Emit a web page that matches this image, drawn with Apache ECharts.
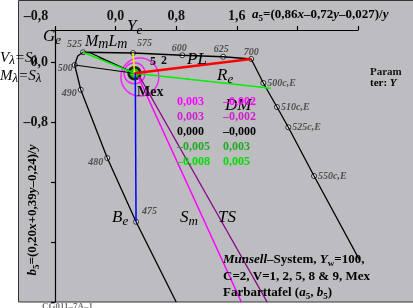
<!DOCTYPE html>
<html>
<head>
<meta charset="utf-8">
<script src="https://cdn.jsdelivr.net/npm/echarts@6/dist/echarts.min.js"></script>
<style>
  html, body { margin: 0; padding: 0; background: #fff; }
</style>
</head>
<body>
<div id="chart" style="width:413px;height:308px"></div>
<script>
// axis ticks
const xTicks = [-0.8, 0.0, 0.8, 1.6]
const xTickLabels = ['\u20130,8', '0,0', '0,8', '1,6']
const yTicks = [0.0, -0.8]
const yTickLabels = ['0,0', '\u20130,8']

// spectral locus (a5, b5), with the named points
const locusX = [0.80, 0.27, -0.11, -0.46, -0.54, -0.50, -0.43, 0.23, 0.88, 1.42, 1.79, 1.95, 2.13, 2.28, 2.62, 3.52]
const locusY = [-3.20, -2.13, -1.28, -0.37, -0.04, 0.08, 0.13, 0.12, 0.09, 0.07, 0.04, -0.28, -0.60, -0.87, -1.52, -3.20]
const locusNames = ['', '475', '480', '490', '500', '', '525', '575', '600', '625', '700', '500c,E', '510c,E', '525c,E', '550c,E', '']

// centre (Mex) and the hue lines
const centerPt = [0.25, -0.15]
const greenLine = [[-0.43, 0.13], [0.25, -0.15], [2.05, -0.35]]
const yellowLine = [[0.23, 0.12], [0.25, -0.15]]
const redLine = [[0.25, -0.15], [1.79, 0.04]]
const blueLine = [[0.26, -0.15], [0.27, -2.13]]
const magentaLine = [[0.30, -0.20], [1.66, -3.20]]
const purpleLine = [[0.32, -0.20], [2.00, -3.20]]
const blackSpokes = [
  [[-0.35, 0.13], [0.25, -0.15]],
  [[-0.22, 0.06], [0.25, -0.15]],
  [[-0.54, -0.04], [0.25, -0.15]]
]

// table of small numbers
const tableLeft = ['0,003', '0,003', '0,000', '\u20130,005', '\u20130,008']
const tableRight = ['\u20130,002', '\u20130,002', '\u20130,000', '0,003', '0,005']

const SERIF = 'Liberation Serif'
const TXT = '#333'

// label placement for the locus points (style only)
const labelPlace = {
  '475': ['right', [0, -10]],
  '480': ['left', [2, 4]],
  '490': ['left', [2, 4]],
  '500': ['left', [4, 3]],
  '525': ['left', [5, -8]],
  '575': ['right', [-2, -10]],
  '600': ['top', [-3, 4]],
  '625': ['top', [-2, 4]],
  '700': ['top', [0, 4]],
  '500c,E': ['right', [-2, 0]],
  '510c,E': ['right', [-2, 0]],
  '525c,E': ['right', [-2, 0]],
  '550c,E': ['right', [-2, 0]]
}

const locusLine = locusX.map((x, i) => [x, locusY[i]])
const markers = []
locusX.forEach((x, i) => {
  if (!locusNames[i]) return
  const p = labelPlace[locusNames[i]]
  markers.push({
    name: locusNames[i],
    value: [x, locusY[i]],
    label: { position: p[0], offset: p[1] }
  })
})

function lineSeries (data, color, width) {
  return {
    type: 'line',
    data: data,
    clip: false,
    symbol: 'none',
    silent: true,
    animation: false,
    lineStyle: { color: color, width: width }
  }
}

const series = []
series.push(lineSeries(locusLine, '#000', 1.3))
blackSpokes.forEach(s => series.push(lineSeries(s, '#000', 1.2)))
series.push(lineSeries(greenLine, '#00ee00', 1.5))
series.push(lineSeries(yellowLine, '#ffee00', 1.5))
series.push(lineSeries(redLine, '#ff0000', 2.5))
series.push(lineSeries(blueLine, '#0000ff', 1.5))
series.push(lineSeries(magentaLine, '#ff00ff', 1.5))
series.push(lineSeries(purpleLine, '#880088', 1.3))
series.push({
  type: 'scatter',
  data: markers,
  clip: false,
  symbolSize: 5,
  animation: false,
  itemStyle: { color: '#fff', borderColor: '#000', borderWidth: 1 },
  label: {
    show: true,
    formatter: p => p.name,
    fontFamily: SERIF,
    fontStyle: 'italic',
    fontWeight: 'bold',
    fontSize: 10,
    color: TXT,
    distance: 3
  }
})
// rings round the centre
series.push({
  type: 'scatter',
  animation: false,
  data: [[0.32, -0.20]],
  symbolSize: 38,
  itemStyle: { color: 'rgba(0,0,0,0)', borderColor: '#ff00ff', borderWidth: 1.5 }
})
series.push({
  type: 'scatter',
  animation: false,
  data: [centerPt],
  symbolSize: 21,
  itemStyle: { color: 'rgba(0,0,0,0)', borderColor: '#ff00ff', borderWidth: 1.5 }
})
series.push({
  type: 'scatter',
  animation: false,
  data: [centerPt],
  symbolSize: 12,
  itemStyle: { color: '#00bb00', borderColor: '#000', borderWidth: 2.5 }
})
series.push({
  type: 'scatter',
  animation: false,
  data: [centerPt],
  symbolSize: 4,
  itemStyle: { color: '#3344ff', borderColor: '#ffee00', borderWidth: 1 }
})

// rich text styles
const base = { fontFamily: SERIF, fontWeight: 'bold', fontSize: 13, color: TXT, lineHeight: 16 }
const rich13 = {
  n: base,
  i: Object.assign({}, base, { fontStyle: 'italic' }),
  s: Object.assign({}, base, { fontSize: 9, lineHeight: 9, verticalAlign: 'bottom' })
}

function richText (x, y, text, rich) {
  return { type: 'text', x: x, y: y, z: 50, style: { text: text, rich: rich, fontFamily: SERIF } }
}

function hueLabel (x, y, big, small, color) {
  return {
    type: 'text', x: x, y: y, z: 50,
    style: {
      text: '{b|' + big + '}{s|' + small + '}',
      rich: {
        b: { fontFamily: SERIF, fontStyle: 'italic', fontSize: 17, color: color, lineHeight: 20 },
        s: { fontFamily: SERIF, fontStyle: 'italic', fontSize: 13, color: color, lineHeight: 13, verticalAlign: 'bottom' }
      }
    }
  }
}

function plain (x, y, text, size, color) {
  return {
    type: 'text', x: x, y: y, z: 50,
    style: {
      text: text, fontFamily: SERIF, fontWeight: 'bold', fontSize: size, fill: color,
      verticalAlign: 'middle'
    }
  }
}

const subRich = {
  b: { fontFamily: SERIF, fontStyle: 'italic', fontSize: 15, color: TXT, lineHeight: 17 },
  s: { fontFamily: SERIF, fontStyle: 'italic', fontSize: 13, color: TXT, lineHeight: 13, verticalAlign: 'bottom' }
}

const tableColors = ['#ff00ff', '#cc22cc', '#000', '#22aa22', '#00dd00']
const tableRows = [102, 117, 132, 147, 162]

const graphic = [
  { type: 'rect', z: -10, shape: { x: 18.5, y: 0.5, width: 400, height: 301.5 }, style: { fill: '#bdbdc1', stroke: '#333', lineWidth: 1 } },
  richText(252, 7, '{i|a}{s|5}{n|=(0,86}{i|x}{n|\u20130,72}{i|y}{n|\u20130,027)/}{i|y}', rich13),
  {
    type: 'text', x: 33, y: 210, z: 50, rotation: Math.PI / 2,
    style: {
      text: '{i|b}{s|5}{n|=(0,20}{i|x}{n|+0,39}{i|y}{n|\u20130,24)/}{i|y}',
      rich: rich13, align: 'center', verticalAlign: 'middle'
    }
  },
  hueLabel(43, 27, 'G', 'e', '#00ee00'),
  hueLabel(127, 17, 'Y', 'e', '#ffee00'),
  hueLabel(187, 50, 'PL', '', '#ff0000'),
  hueLabel(217, 66, 'R', 'e', '#ff0000'),
  hueLabel(225, 96, 'DM', '', '#00ee00'),
  hueLabel(112, 208, 'B', 'e', '#0000ff'),
  hueLabel(180, 208, 'S', 'm', '#ff00ff'),
  hueLabel(218, 208, 'TS', '', '#880088'),
  {
    type: 'text', x: 85, y: 33, z: 50,
    style: {
      text: '{b|M}{s|m}{b|L}{s|m}',
      rich: {
        b: { fontFamily: SERIF, fontStyle: 'italic', fontSize: 16, color: TXT, lineHeight: 18 },
        s: { fontFamily: SERIF, fontStyle: 'italic', fontSize: 14, color: TXT, lineHeight: 14, verticalAlign: 'bottom' }
      }
    }
  },
  { type: 'text', x: 0, y: 50, z: 50, style: { text: '{b|V}{s|\u03bb}{b|=S}{s|\u03bb}', rich: subRich } },
  { type: 'text', x: 0, y: 68, z: 50, style: { text: '{b|M}{s|\u03bb}{b|=S}{s|\u03bb}', rich: subRich } },
  plain(150, 62, '5', 12, '#111'),
  plain(161, 61, '2', 12, '#111'),
  plain(137, 92, 'Mex', 14, '#111'),
  plain(370, 72, 'Param', 11, '#111'),
  {
    type: 'text', x: 370, y: 78, z: 50,
    style: {
      text: '{n|ter: }{i|Y}',
      rich: {
        n: { fontFamily: SERIF, fontWeight: 'bold', fontSize: 11, color: '#111' },
        i: { fontFamily: SERIF, fontWeight: 'bold', fontStyle: 'italic', fontSize: 11, color: '#111' }
      }
    }
  },
  richText(223, 252, '{i|Munsell}{n|\u2013System, }{i|Y}{s|w}{n|=100,}', rich13),
  richText(223, 269, '{n|C=2, V=1, 2, 5, 8 & 9, Mex}', rich13),
  richText(223, 285, '{n|Farbarttafel (}{i|a}{s|5}{n|, }{i|b}{s|5}{n|)}', rich13),
  plain(42, 307, 'CG011\u20137A\u20131', 9, '#777')
]
tableRows.forEach((y, i) => {
  graphic.push(plain(177, y, tableLeft[i], 12, tableColors[i]))
  graphic.push(plain(223, y, tableRight[i], 12, tableColors[i]))
})

const chart = echarts.init(document.getElementById('chart'), null, { renderer: 'canvas' })
chart.setOption({
  backgroundColor: '#fff',
  animation: false,
  grid: { left: 55, right: 55, top: 30, bottom: 6 },
  xAxis: {
    type: 'value',
    position: 'top',
    min: -0.8,
    max: 3.2,
    interval: 0.8,
    splitLine: { show: false },
    axisLine: { onZero: false, lineStyle: { color: '#000', width: 1.2 } },
    axisTick: { length: 4, lineStyle: { color: '#000', width: 1.2 } },
    axisLabel: {
      margin: 7,
      fontFamily: SERIF,
      fontWeight: 'bold',
      fontSize: 14,
      color: '#111',
      formatter: v => {
        const k = xTicks.findIndex(t => Math.abs(t - v) < 1e-6)
        if (k < 0) return ''
        return k === 0 ? '{m|' + xTickLabels[k] + '}' : xTickLabels[k]
      },
      rich: { m: { fontFamily: SERIF, fontWeight: 'bold', fontSize: 14, color: '#111', padding: [0, 38, 0, 0] } }
    }
  },
  yAxis: {
    type: 'value',
    min: -3.2,
    max: 32 / 75,
    interval: 0.8,
    splitLine: { show: false },
    axisLine: { onZero: false, lineStyle: { color: '#000', width: 1.2 } },
    axisTick: { length: 4, lineStyle: { color: '#000', width: 1.2 } },
    axisLabel: {
      margin: 7,
      fontFamily: SERIF,
      fontWeight: 'bold',
      fontSize: 14,
      color: '#111',
      formatter: v => {
        const k = yTicks.findIndex(t => Math.abs(t - v) < 1e-6)
        return k < 0 ? '' : yTickLabels[k]
      }
    }
  },
  series: series,
  graphic: graphic
})
</script>
</body>
</html>
